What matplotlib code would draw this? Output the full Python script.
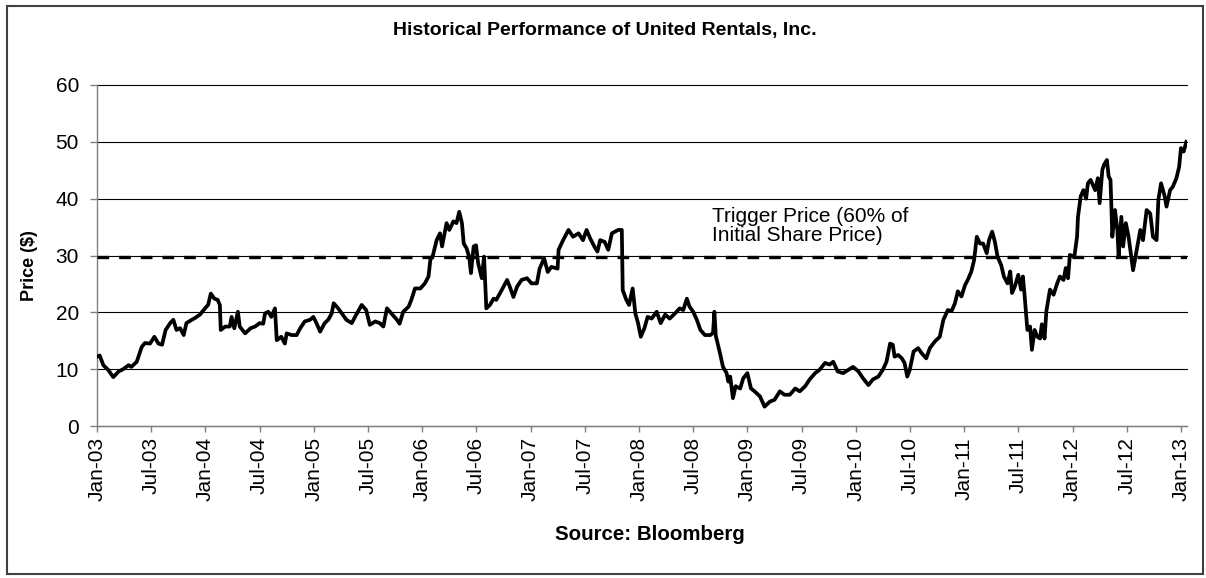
import matplotlib
matplotlib.use("Agg")
import matplotlib.pyplot as plt
from matplotlib.patches import Rectangle

# Months since Jan-2003 and closing price ($)
months = [
    0.0, 0.3, 0.7, 1.25, 1.8, 2.4, 2.9, 3.5, 3.8, 4.4, 4.95, 5.3, 5.87, 6.35, 6.8, 7.2,
    7.6, 8.1, 8.45, 8.8, 9.2, 9.6, 9.9, 10.5, 10.85, 11.4, 11.95, 12.3, 12.6, 13.0, 13.36,
    13.6, 13.7, 14.2, 14.7, 14.9, 15.2, 15.6, 15.8, 16.4, 17.0, 17.5, 18.0, 18.4, 18.6,
    18.97, 19.3, 19.7, 19.9, 20.4, 20.8, 21.0, 21.55, 22.1, 22.5,
    23.0, 23.6, 23.95, 24.3, 24.7, 25.2, 25.6, 25.98, 26.2, 26.7, 27.1, 27.6, 28.2, 28.7,
    29.3, 29.8, 30.2, 30.8, 31.3, 31.7, 32.1, 32.6, 33.2, 33.5, 33.9, 34.5, 34.8, 35.2,
    35.8, 36.3, 36.7, 36.9, 37.2, 37.6, 37.97, 38.2, 38.7, 39.0, 39.45, 39.8, 40.1, 40.4,
    40.6, 40.9, 41.2, 41.4, 41.7, 41.96, 42.2, 42.6, 42.85, 43.1, 43.5, 43.9, 44.2, 44.8,
    45.4, 45.7, 46.1, 46.5, 47.0, 47.6, 48.1, 48.7, 49.0, 49.5, 49.9, 50.3, 50.99, 51.1,
    51.6, 52.2, 52.7, 53.3, 53.8, 54.2, 54.6, 55.05, 55.4, 55.7, 56.2, 56.6, 57.0, 57.7,
    58.1, 58.2, 58.6, 58.9, 59.3, 59.6, 59.9, 60.2, 60.6, 60.96, 61.4, 61.96, 62.4, 62.9,
    63.4, 63.98, 64.5, 64.9, 65.3, 65.6, 66.0, 66.4, 66.8, 67.3, 67.9, 68.2, 68.35, 68.5,
    68.97, 69.3, 69.7, 69.9, 70.1, 70.4, 70.7, 71.2, 71.55, 72.0, 72.4, 72.8, 73.4, 73.9,
    74.5, 75.0, 75.6, 76.1, 76.7, 77.3, 77.8, 78.4, 78.9, 79.5, 80.0, 80.6, 81.1, 81.5,
    82.0, 82.6, 83.2, 83.7, 84.3, 84.8, 85.4, 85.9, 86.5, 87.0, 87.4, 87.8, 88.1, 88.3,
    88.7, 89.1, 89.4, 89.7, 89.98, 90.4, 90.9, 91.3, 91.8, 92.2, 92.77, 93.3, 93.7, 94.2,
    94.6, 94.98, 95.3, 95.7, 96.1, 96.4, 96.8, 97.1, 97.4, 97.75, 98.1, 98.5, 98.75, 99.1,
    99.4, 99.7, 100.1, 100.4, 100.8, 101.1, 101.3, 101.6, 101.99, 102.3, 102.5, 102.7,
    103.0, 103.3, 103.5, 103.8, 104.1, 104.4, 104.6, 104.9, 105.1, 105.5, 105.9, 106.3,
    106.6, 107.0, 107.25, 107.5, 107.7, 108.2, 108.5, 108.6, 108.9, 109.2, 109.5, 109.7,
    110.0, 110.5, 110.8, 111.0, 111.3, 111.5, 111.8, 112.0, 112.2, 112.3, 112.4, 112.7,
    112.96, 113.1, 113.4, 113.6, 113.9, 114.2, 114.5, 114.7, 115.1, 115.5, 115.8, 116.2,
    116.6, 116.9, 117.3, 117.5, 117.8, 118.2, 118.4, 118.8, 119.1, 119.5, 119.8, 120.0,
    120.3, 120.6,
]
price = [
    12.2, 12.4, 10.7, 9.85, 8.6, 9.6, 10.0, 10.7, 10.4, 11.3, 13.9, 14.6, 14.5, 15.7, 14.5, 14.3,
    16.9, 18.1, 18.7, 16.9, 17.2, 16.0, 18.1, 18.7, 19.0, 19.6, 20.7, 21.3, 23.3, 22.4, 22.2,
    21.3, 16.9, 17.5, 17.5, 19.2, 17.2, 20.1, 17.5, 16.3, 17.2, 17.5, 18.1, 18.0, 19.8,
    20.1, 19.2, 20.7, 15.1, 15.7, 14.5, 16.3, 16.0, 16.0, 17.2,
    18.4, 18.7, 19.2, 18.1, 16.6, 18.1, 18.7, 19.8, 21.6, 20.7, 19.8, 18.7, 18.1, 19.6,
    21.3, 20.4, 17.8, 18.4, 18.1, 17.5, 20.7, 19.8, 18.7, 18.0, 20.1, 21.0, 22.2, 24.2,
    24.2, 25.1, 26.3, 29.2, 30.1, 32.7, 33.9, 31.6, 35.7, 34.5, 36.0, 35.7, 37.7, 35.7,
    32.1, 31.3, 29.8, 26.9, 31.6, 31.8, 28.6, 26.0, 29.8, 20.7, 21.3, 22.4, 22.2, 23.9,
    25.7, 24.5, 22.7, 24.5, 25.7, 26.0, 25.1, 25.1, 27.7, 29.5, 27.1, 28.0, 27.7, 31.0,
    32.7, 34.5, 33.3, 33.9, 32.7, 34.5, 33.0, 31.6, 30.7, 32.7, 32.4, 31.0, 33.9, 34.5,
    34.5, 23.9, 22.2, 21.3, 24.2, 19.8, 18.1, 15.7, 17.2, 19.2, 18.9, 20.1, 18.1, 19.6,
    18.9, 19.8, 20.7, 20.4, 22.4, 21.0, 20.1, 18.7, 16.9, 16.0, 16.0, 16.4, 20.1, 15.9,
    12.8, 10.4, 9.3, 7.8, 8.7, 4.9, 7.0, 6.6, 8.4, 9.3, 6.6, 6.1, 5.2, 3.4,
    4.3, 4.6, 6.1, 5.5, 5.5, 6.6, 6.1, 7.0, 8.2, 9.3, 9.9, 11.1, 10.8, 11.3,
    9.6, 9.3, 9.9, 10.4, 9.6, 8.4, 7.2, 8.2, 8.7, 9.9, 11.3, 14.5, 14.3, 12.2,
    12.5, 11.9, 11.1, 8.7, 9.9, 13.1, 13.7, 12.8, 11.9, 13.7, 14.9, 15.7, 18.7, 20.4,
    20.2, 21.6, 23.7, 22.8, 24.8, 25.7, 27.2, 29.2, 33.3, 32.1, 32.1, 30.4, 32.7, 34.2,
    32.4, 29.8, 28.3, 26.3, 25.1, 27.2, 23.4, 24.5, 26.6, 24.0, 26.3, 22.8,
    16.9, 17.5, 13.4, 16.9, 15.7, 15.4, 17.9, 15.4, 20.2, 24.0, 23.1, 25.1,
    26.3, 25.7, 27.8, 26.0, 30.1, 29.8, 33.3, 36.8, 40.4, 41.5, 40.0, 42.7,
    43.3, 41.5, 43.6, 39.2, 45.1, 46.0, 46.8, 43.9, 43.3, 38.6, 33.3, 38.0,
    34.5, 29.8, 36.8, 31.6, 35.7, 33.3, 29.8, 27.4, 31.0, 34.5, 32.7, 38.0,
    37.4, 33.3, 32.7, 39.8, 42.7, 40.4, 38.6, 41.5, 42.1, 43.6, 45.6, 48.9,
    48.3, 50.0,
]
trigger_price = 29.7
trigger_label = "Trigger Price (60% of\nInitial Share Price)"
tick_months = list(range(0, 121, 6))
tick_labels = ["Jan-03", "Jul-03", "Jan-04", "Jul-04", "Jan-05", "Jul-05", "Jan-06",
               "Jul-06", "Jan-07", "Jul-07", "Jan-08", "Jul-08", "Jan-09", "Jul-09",
               "Jan-10", "Jul-10", "Jan-11", "Jul-11", "Jan-12", "Jul-12", "Jan-13"]
y_ticks = [0, 10, 20, 30, 40, 50, 60]
title = "Historical Performance of United Rentals, Inc."

plt.rcParams['font.family'] = ['Liberation Sans', 'DejaVu Sans']

W, H = 1206, 578
fig = plt.figure(figsize=(W / 100, H / 100), dpi=100)
ax = fig.add_axes([97 / W, 1 - 426 / H, (1187 - 97) / W, (426 - 85) / H])

ax.plot(months, price, color='black', lw=2.7, solid_joinstyle='round', zorder=4)
ax.axhline(trigger_price, color='black', lw=2.4, linestyle=(0, (3.5, 3)), zorder=3)

ax.set_xlim(0, 120.67)
ax.set_ylim(0, 60)
ax.set_yticks(y_ticks)
ax.set_xticks(tick_months)
ax.set_xticklabels(tick_labels, rotation=90)
ax.yaxis.grid(True, color='black', lw=0.8)
for gl in ax.get_ygridlines():
    gl.set_clip_on(False)
ax.set_axisbelow(True)
for s in ('top', 'right'):
    ax.spines[s].set_visible(False)
for s in ('left', 'bottom'):
    ax.spines[s].set_color('#808080')
    ax.spines[s].set_linewidth(1.0)
ax.tick_params(axis='y', direction='out', length=5, width=1, color='#808080',
               labelsize=15, pad=8)
ax.tick_params(axis='x', direction='out', length=4, width=1, color='#808080',
               labelsize=15, pad=4)

ax.set_ylabel("Price ($)", fontweight='bold', fontsize=13, va='center')
ax.yaxis.set_label_coords((29 - 97) / 1090, (426 - 266) / 341)
ax.set_xlabel("Source: Bloomberg", fontweight='bold', fontsize=14.8, va='center')
ax.xaxis.set_label_coords((650 - 97) / 1090, (426 - 535) / 341)

fig.text(605 / W, 1 - 30 / H, title, ha='center', va='center', fontweight='bold', fontsize=14)
ax.text(68.05, 38.5, trigger_label, fontsize=15, ha='left', va='top', linespacing=1.0)

fig.patches.append(Rectangle((7 / W, 4 / H), 1 - 10 / W, 1 - 10 / H, transform=fig.transFigure,
                             fill=False, ec='#404040', lw=1.5))

fig.savefig('out.png', dpi=100)
